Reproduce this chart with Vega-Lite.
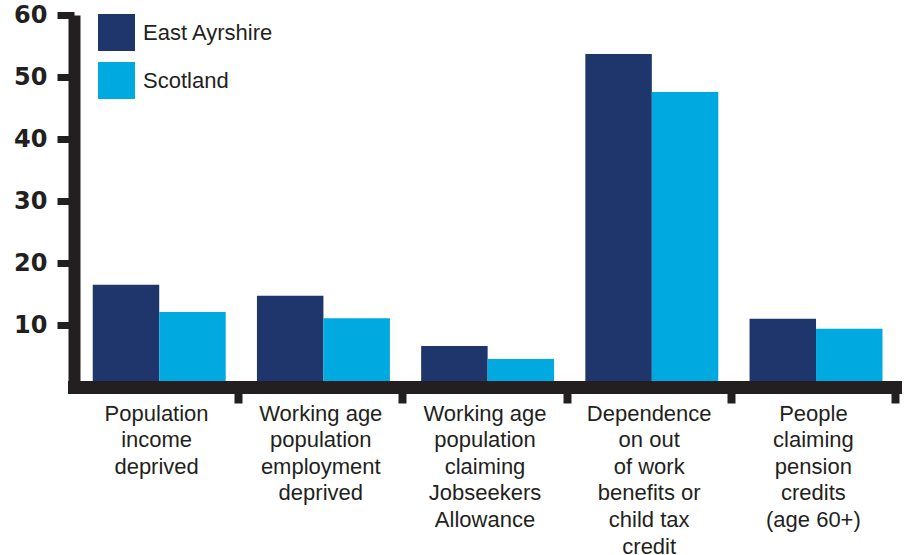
{
  "$schema": "https://vega.github.io/schema/vega-lite/v6.json",
  "width": 821,
  "height": 372,
  "autosize": "none",
  "padding": {"left": 74, "top": 15, "right": 9, "bottom": 168},
  "background": "white",
  "config": {"view": {"stroke": null}},
  "data": {
    "values": [
      {"category": "Population|income|deprived", "area": "East Ayrshire", "value": 16.5},
      {"category": "Population|income|deprived", "area": "Scotland", "value": 12.1},
      {"category": "Working age|population|employment|deprived", "area": "East Ayrshire", "value": 14.7},
      {"category": "Working age|population|employment|deprived", "area": "Scotland", "value": 11.1},
      {"category": "Working age|population|claiming|Jobseekers|Allowance", "area": "East Ayrshire", "value": 6.6},
      {"category": "Working age|population|claiming|Jobseekers|Allowance", "area": "Scotland", "value": 4.5},
      {"category": "Dependence|on out|of work|benefits or|child tax|credit", "area": "East Ayrshire", "value": 53.7},
      {"category": "Dependence|on out|of work|benefits or|child tax|credit", "area": "Scotland", "value": 47.6},
      {"category": "People|claiming|pension|credits|(age 60+)", "area": "East Ayrshire", "value": 11.0},
      {"category": "People|claiming|pension|credits|(age 60+)", "area": "Scotland", "value": 9.4}
    ]
  },
  "mark": "bar",
  "encoding": {
    "x": {
      "field": "category",
      "type": "nominal",
      "sort": null,
      "scale": {"paddingInner": 0, "paddingOuter": 0},
      "axis": {
        "title": null,
        "labelExpr": "split(datum.label, '|')",
        "labelAngle": 0,
        "labelFont": "Liberation Sans",
        "labelFontSize": 22,
        "labelLineHeight": 26.6,
        "labelColor": "#231f20",
        "labelLimit": 300,
        "labelOverlap": false,
        "labelPadding": 0,
        "tickBand": "extent",
        "tickSize": 16,
        "tickWidth": 8,
        "tickColor": {"condition": {"test": "datum.extra", "value": "transparent"}, "value": "#231f20"},
        "domainWidth": 13,
        "domainColor": "#231f20",
        "domainCap": "square",
        "zindex": 1
      }
    },
    "xOffset": {
      "field": "area",
      "type": "nominal",
      "scale": {"paddingInner": 0, "paddingOuter": 0.235, "align": 0.6}
    },
    "y": {
      "field": "value",
      "type": "quantitative",
      "scale": {"domain": [0, 60], "nice": false},
      "axis": {
        "title": null,
        "values": [10, 20, 30, 40, 50, 60],
        "grid": false,
        "labelFont": "DejaVu Sans",
        "labelFontWeight": "bold",
        "labelFontSize": 24,
        "labelColor": "#231f20",
        "labelPadding": 10,
        "tickSize": 17,
        "tickWidth": 7,
        "tickColor": "#231f20",
        "domainWidth": 12,
        "domainColor": "#231f20",
        "zindex": 1
      }
    },
    "color": {
      "field": "area",
      "type": "nominal",
      "scale": {
        "domain": ["East Ayrshire", "Scotland"],
        "range": ["#1e366b", "#00a9e0"]
      },
      "legend": {
        "title": null,
        "orient": "none",
        "legendX": 24,
        "legendY": -1,
        "padding": 0,
        "symbolType": "square",
        "symbolSize": 1369,
        "symbolStrokeWidth": 0,
        "symbolOpacity": 1,
        "labelOffset": 8,
        "rowPadding": 11,
        "labelFont": "Liberation Sans",
        "labelFontSize": 22,
        "labelColor": "#231f20"
      }
    }
  }
}
